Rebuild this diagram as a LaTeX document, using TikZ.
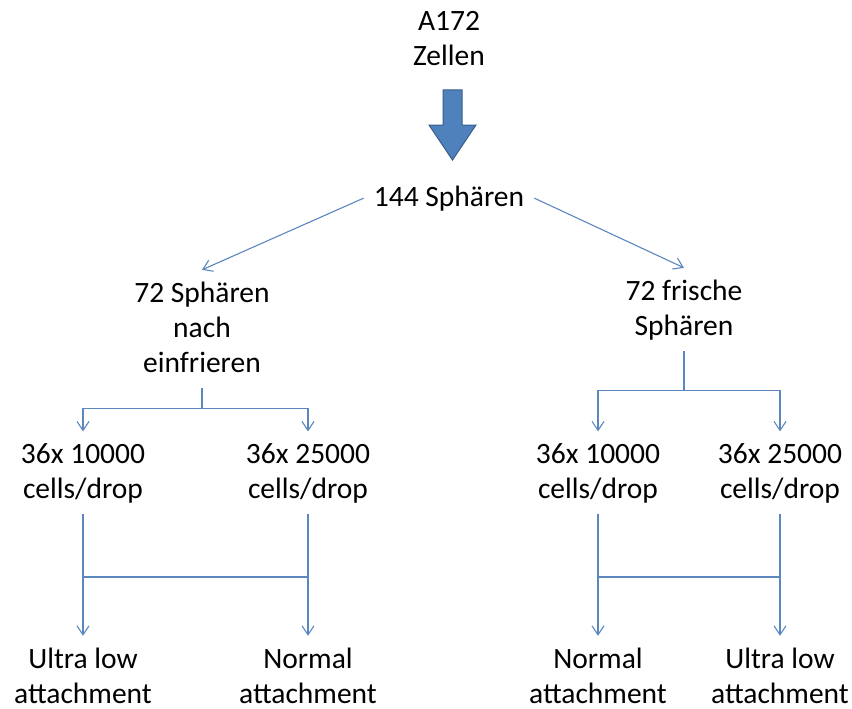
\documentclass[tikz,border=0pt]{standalone}
\usepackage{fontspec}
\setmainfont{Carlito}
\usepackage{tikz}
\usetikzlibrary{arrows.meta}
\definecolor{lineblue}{RGB}{91,135,190}
\definecolor{arrowfill}{RGB}{79,129,189}
\definecolor{arrowdraw}{RGB}{56,93,138}

\begin{document}
\begin{tikzpicture}[x=1pt,y=-1pt,
  lbl/.style={font=\fontsize{29.5}{35}\selectfont,align=center,anchor=base,inner xsep=10pt,inner ysep=11.5pt,
    execute at begin node={\vphantom{Ap}},execute at end node={\vphantom{Ap}}},
  ln/.style={draw=lineblue,line width=1.1pt},
  ar/.style={ln,-{Straight Barb[length=9pt,width=12pt]}},
  bigar/.style={fill=arrowfill,draw=arrowdraw,line width=1pt}]
  \useasboundingbox (0,0) rectangle (852,709);
  % top
  \node[lbl] (cells) at (449,66) {A172\\Zellen};
  \node[lbl] (sph) at (449,206) {144 Sphären};
  \coordinate (bt) at (452.5,90);
  \draw[bigar] (bt) ++(-9.5,0) -- ++(19,0) -- ++(0,35) -- ++(14,0) -- ++(-23.5,35) -- ++(-23.5,-35) -- ++(14,0) -- cycle;
  % two groups
  \node[lbl] (frz) at (202,372) {72 Sphären\\nach\\einfrieren};
  \node[lbl] (frs) at (684,335) {72 frische\\Sphären};
  \draw[ar] (sph.west) -- (frz.north);
  \draw[ar] (sph.east) -- (frs.north);
  % cells per drop
  \node[lbl] (f10) at (83,498) {36x 10000\\cells/drop};
  \node[lbl] (f25) at (308,498) {36x 25000\\cells/drop};
  \node[lbl] (s10) at (598,498) {36x 10000\\cells/drop};
  \node[lbl] (s25) at (780,498) {36x 25000\\cells/drop};
  \draw[ar] (frz.south) -- ++(0,20) -| (f10.north);
  \draw[ar] (frz.south) ++(0,20) -| (f25.north);
  \draw[ar] (frs.south) -- ++(0,39) -| (s10.north);
  \draw[ar] (frs.south) ++(0,39) -| (s25.north);
  % plates
  \node[lbl] (fu) at (83,703) {Ultra low\\attachment};
  \node[lbl] (fn) at (308,703) {Normal\\attachment};
  \node[lbl] (sn) at (598,703) {Normal\\attachment};
  \node[lbl] (su) at (780,703) {Ultra low\\attachment};
  \coordinate (bar) at (0,577);
  \draw[ar] (f10.south) -- (fu.north);
  \draw[ar] (f25.south) -- (fn.north);
  \draw[ar] (s10.south) -- (sn.north);
  \draw[ar] (s25.south) -- (su.north);
  \draw[ln] (f10 |- bar) -- (f25 |- bar);
  \draw[ln] (s10 |- bar) -- (s25 |- bar);
\end{tikzpicture}
\end{document}
